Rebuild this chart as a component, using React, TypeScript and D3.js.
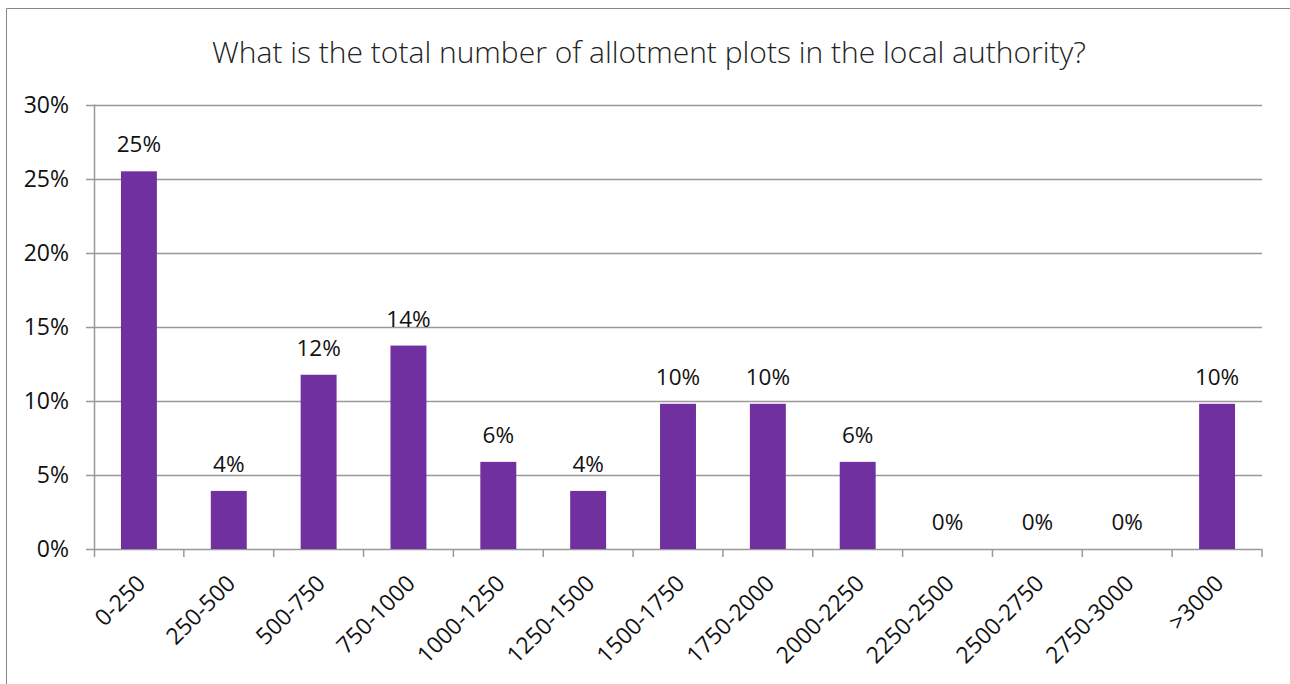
import React, { useEffect, useRef } from "react";
import * as d3 from "d3";

const categories = ["0-250", "250-500", "500-750", "750-1000", "1000-1250", "1250-1500", "1500-1750", "1750-2000", "2000-2250", "2250-2500", "2500-2750", "2750-3000", ">3000"];
const values = [0.2549, 0.0392, 0.1176, 0.1373, 0.0588, 0.0392, 0.098, 0.098, 0.0588, 0, 0, 0, 0.098];
const yTicks = [0, 0.05, 0.1, 0.15, 0.2, 0.25, 0.3];
const title = "What is the total number of allotment plots in the local authority?";

const W = 1290, H = 684;
const FONT = "'Open Sans', 'Noto Sans', sans-serif";

export default function App() {
  const ref = useRef<SVGSVGElement>(null);
  useEffect(() => {
    document.body.style.margin = "0";
    const svg = d3.select(ref.current);
    svg.selectAll("*").remove();
    const left = 94, right = 1262, top = 104.5, bottom = 549;
    const x = d3.scaleBand<string>().domain(categories).range([left, right]).paddingInner(0.6).paddingOuter(0.3);
    const xb = d3.scaleBand<string>().domain(categories).range([left, right]);
    const y = d3.scaleLinear().domain([0, 0.3]).range([bottom, top]);

    svg.append("rect").attr("x", 0).attr("y", 0).attr("width", W).attr("height", H).attr("fill", "#fff");
    // frame
    svg.append("path").attr("d", `M6.5,${H} V8.5 H${W}`).attr("fill", "none").attr("stroke", "#888").attr("stroke-width", 1);

    svg.append("text").attr("x", 649).attr("y", 63).attr("text-anchor", "middle")
      .attr("font-family", FONT).attr("font-weight", 300).attr("font-size", 30).attr("fill", "#222").text(title);

    const g = svg.append("g");
    // gridlines
    g.selectAll("line.grid").data(yTicks).join("line")
      .attr("x1", left - 8).attr("x2", right).attr("y1", (d) => Math.round(y(d)) + 0.5).attr("y2", (d) => Math.round(y(d)) + 0.5)
      .attr("stroke", "#999").attr("stroke-width", 1.5);
    // y axis line
    g.append("line").attr("x1", left + 0.5).attr("x2", left + 0.5).attr("y1", top).attr("y2", bottom + 8).attr("stroke", "#999").attr("stroke-width", 1.5);
    // x ticks
    const bounds = categories.map((c) => xb(c)! + xb.bandwidth());
    g.selectAll("line.xt").data(bounds).join("line")
      .attr("x1", (d) => d).attr("x2", (d) => d).attr("y1", bottom).attr("y2", bottom + 8).attr("stroke", "#999").attr("stroke-width", 1.5);
    // y labels
    g.selectAll("text.yl").data(yTicks).join("text")
      .attr("x", 69).attr("y", (d) => y(d) + 8).attr("text-anchor", "end")
      .attr("font-family", FONT).attr("font-size", 23).attr("fill", "#111")
      .text((d) => d3.format(".0%")(d));
    // bars
    g.selectAll("rect.bar").data(values).join("rect")
      .attr("x", (_, i) => x(categories[i])!).attr("width", x.bandwidth())
      .attr("y", (d) => y(d)).attr("height", (d) => bottom - y(d)).attr("fill", "#7030A0");
    // value labels
    g.selectAll("text.vl").data(values).join("text")
      .attr("x", (_, i) => x(categories[i])! + x.bandwidth() / 2).attr("y", (d) => y(d) - 19)
      .attr("text-anchor", "middle").attr("font-family", FONT).attr("font-size", 22.5).attr("fill", "#111")
      .text((d) => d3.format(".0%")(d));
    // x labels
    g.selectAll("text.xl").data(categories).join("text")
      .attr("transform", (c) => `translate(${xb(c)! + xb.bandwidth() / 2 + 8},${bottom + 36}) rotate(-45)`)
      .attr("text-anchor", "end").attr("font-family", FONT).attr("font-size", 23).attr("fill", "#111")
      .text((c) => c);
  }, []);
  return <svg ref={ref} width={W} height={H} style={{ display: "block" }} />;
}
